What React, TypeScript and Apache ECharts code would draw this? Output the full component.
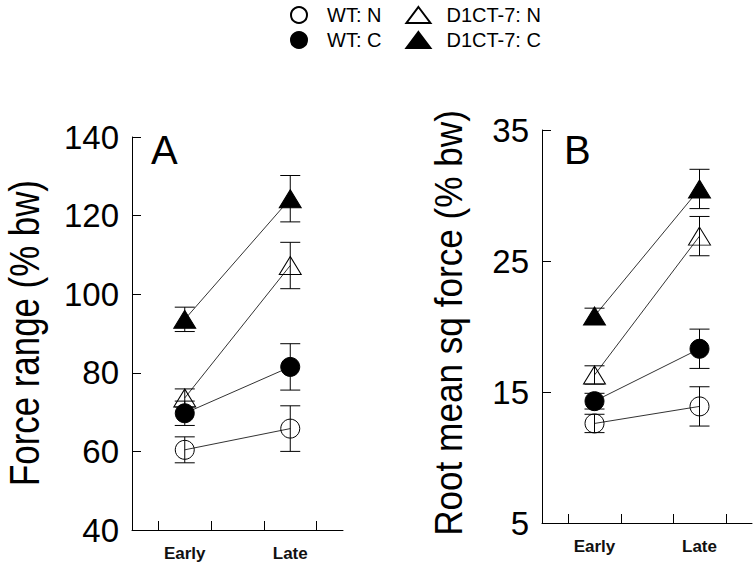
import React, { useEffect, useRef } from "react";
import * as echarts from "echarts";

const categories = ["Early", "Late"];
const seriesNames = ["WT: N", "WT: C", "D1CT-7: N", "D1CT-7: C"];
const panelLetters = ["A", "B"];
const axisTitles = ["Force range (% bw)", "Root mean sq force (% bw)"];

// Panel A: Force range (% bw)
const forceWTN = [60.4, 65.8];
const forceWTNErr = [3.3, 5.8];
const forceWTC = [69.7, 81.5];
const forceWTCErr = [3.1, 5.9];
const forceDN = [73.6, 107.3];
const forceDNErr = [2.3, 5.9];
const forceDC = [93.6, 124.3];
const forceDCErr = [3.1, 5.9];

// Panel B: Root mean sq force (% bw)
const rmsWTN = [12.6, 13.9];
const rmsWTNErr = [0.7, 1.5];
const rmsWTC = [14.3, 18.3];
const rmsWTCErr = [0.6, 1.5];
const rmsDN = [16.3, 26.9];
const rmsDNErr = [0.7, 1.5];
const rmsDC = [20.8, 30.5];
const rmsDCErr = [0.6, 1.5];

const FONT = "'Liberation Sans', Arial, sans-serif";

export default function App() {
  const ref = useRef<HTMLDivElement>(null);

  useEffect(() => {
    if (!ref.current) return;
    const chart = echarts.init(ref.current, undefined, { renderer: "svg" });

    const xPos = categories.map((_, i) => 1 + 2 * i);
    const styles = [
      { symbol: "circle", filled: false, size: 19 },
      { symbol: "circle", filled: true, size: 19 },
      { symbol: "triangle", filled: false, size: [22, 18] },
      { symbol: "triangle", filled: true, size: [22, 18] },
    ];

    const panels = [
      {
        means: [forceWTN, forceWTC, forceDN, forceDC],
        errs: [forceWTNErr, forceWTCErr, forceDNErr, forceDCErr],
      },
      {
        means: [rmsWTN, rmsWTC, rmsDN, rmsDC],
        errs: [rmsWTNErr, rmsWTCErr, rmsDNErr, rmsDCErr],
      },
    ];

    const series: any[] = [];
    panels.forEach((p, gi) => {
      p.means.forEach((m, si) => {
        const errData = m.map((v, i) => [xPos[i], v, p.errs[si][i]]);
        series.push({
          type: "custom",
          xAxisIndex: gi,
          yAxisIndex: gi,
          silent: true,
          z: 3,
          data: errData,
          renderItem: (params: any, api: any) => {
            const x = api.value(0);
            const y = api.value(1);
            const e = api.value(2);
            const top = api.coord([x, y + e]);
            const bot = api.coord([x, y - e]);
            const hw = 10;
            const st = { stroke: "#000", lineWidth: 1 };
            return {
              type: "group",
              children: [
                { type: "line", shape: { x1: top[0], y1: top[1], x2: bot[0], y2: bot[1] }, style: st },
                { type: "line", shape: { x1: top[0] - hw, y1: top[1], x2: top[0] + hw, y2: top[1] }, style: st },
                { type: "line", shape: { x1: bot[0] - hw, y1: bot[1], x2: bot[0] + hw, y2: bot[1] }, style: st },
              ],
            };
          },
        });
        const s = styles[si];
        series.push({
          type: "line",
          name: seriesNames[si],
          xAxisIndex: gi,
          yAxisIndex: gi,
          data: m.map((v, i) => [xPos[i], v]),
          symbol: s.symbol,
          symbolSize: s.size,
          showSymbol: true,
          z: 2,
          lineStyle: { color: "#333", width: 1 },
          itemStyle: {
            color: s.filled ? "#000" : "rgba(255,255,255,0)",
            borderColor: "#000",
            borderWidth: 1,
            opacity: 1,
          },
          emphasis: { disabled: true },
        });
      });
    });

    const xAxisBase = (gi: number) => ({
      type: "value",
      gridIndex: gi,
      min: 0,
      max: 4,
      axisLine: { show: true, onZero: false, lineStyle: { color: "#000", width: 1 } },
      axisTick: {
        show: true,
        inside: true,
        length: 9,
        customValues: [0.5, 1.5, 2.5, 3.5],
        lineStyle: { color: "#000", width: 1 },
      },
      axisLabel: {
        customValues: xPos,
        formatter: (v: number) => categories[Math.round((v - 1) / 2)] ?? "",
        fontSize: 17,
        fontWeight: "bold",
        color: "#111",
        fontFamily: FONT,
        margin: 15,
      },
      splitLine: { show: false },
    });

    const yAxisBase = (gi: number, min: number, max: number, interval: number) => ({
      type: "value",
      gridIndex: gi,
      min,
      max,
      interval,
      axisLine: { show: true, lineStyle: { color: "#000", width: 1 } },
      axisTick: { show: true, inside: true, length: 9, lineStyle: { color: "#000", width: 1 } },
      axisLabel: { fontSize: 33, color: "#000", fontFamily: FONT, margin: 13 },
      splitLine: { show: false },
    });

    const legendCommon = {
      itemWidth: 24,
      itemHeight: 16,
      itemGap: 24,
      selectedMode: false,
      textStyle: {
        fontSize: 20,
        color: "#000",
        fontFamily: FONT,
        width: 63,
        padding: [0, 0, 0, 11],
      },
    };
    const legendItem = (name: string) => ({
      name,
      icon: name.startsWith("WT") ? "circle" : "triangle",
    });

    chart.setOption({
      animation: false,
      backgroundColor: "#fff",
      textStyle: { fontFamily: FONT },
      legend: [
        { ...legendCommon, left: 285, top: 0, data: [seriesNames[0], seriesNames[2]].map(legendItem) },
        { ...legendCommon, left: 285, top: 25, data: [seriesNames[1], seriesNames[3]].map(legendItem) },
      ],
      grid: [
        { left: 132, top: 137, width: 211, height: 393 },
        { left: 542, top: 130, width: 210, height: 393 },
      ],
      xAxis: [xAxisBase(0), xAxisBase(1)],
      yAxis: [yAxisBase(0, 40, 140, 20), yAxisBase(1, 5, 35, 10)],
      graphic: [
        {
          type: "text",
          left: 151,
          top: 130,
          style: { text: panelLetters[0], fontSize: 40, fill: "#000", fontFamily: FONT },
        },
        {
          type: "text",
          left: 564,
          top: 130,
          style: { text: panelLetters[1], fontSize: 40, fill: "#000", fontFamily: FONT },
        },
        {
          type: "text",
          x: 24,
          y: 333,
          rotation: Math.PI / 2,
          scaleX: 0.83,
          style: {
            text: axisTitles[0],
            fontSize: 42,
            lineHeight: 42,
            fill: "#000",
            fontFamily: FONT,
            align: "center",
            verticalAlign: "middle",
          },
        },
        {
          type: "text",
          x: 448,
          y: 323,
          rotation: Math.PI / 2,
          scaleX: 0.89,
          style: {
            text: axisTitles[1],
            fontSize: 39.5,
            lineHeight: 40,
            fill: "#000",
            fontFamily: FONT,
            align: "center",
            verticalAlign: "middle",
          },
        },
      ],
      series,
    });

    return () => chart.dispose();
  }, []);

  return (
    <div
      ref={ref}
      style={{ position: "fixed", left: 0, top: 0, width: 755, height: 568 }}
    />
  );
}
